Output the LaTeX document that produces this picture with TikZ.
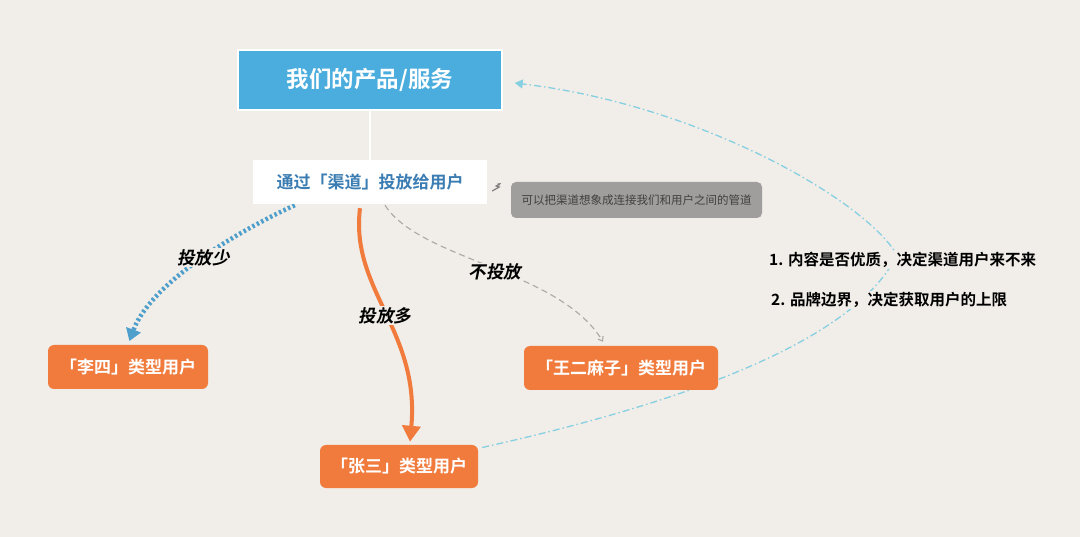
\documentclass[tikz,border=0pt]{standalone}
\usepackage{fontspec}
\setmainfont{Noto Sans CJK SC}[BoldFont={Noto Sans CJK SC Bold}]
\newfontfamily\slantcjk{Noto Sans CJK SC Bold}[FakeSlant=0.2]
\usetikzlibrary{
  arrows.meta,
  calc,
  backgrounds,
}
\definecolor{paperbg}{HTML}{F1EDE8}
\definecolor{prodblue}{HTML}{4BADDD}
\definecolor{chantext}{HTML}{3B7DB2}
\definecolor{userorange}{HTML}{F07B3C}
\definecolor{notegray}{HTML}{A09E9D}
\definecolor{dotblue}{HTML}{4E9FCB}
\definecolor{loopcyan}{HTML}{86D0E2}
\definecolor{dashgray}{HTML}{ABA8A5}

\begin{document}
\begin{tikzpicture}[
    x=1pt, y=-1pt,
    prodbox/.style={fill=prodblue, draw=white, line width=1.5pt, text=white,
      minimum width=264pt, minimum height=60pt, inner sep=0pt,
      font=\fontsize{22.5}{26}\selectfont\bfseries},
    chanbox/.style={fill=white, text=chantext, minimum width=234pt,
      minimum height=44pt, inner sep=0pt, font=\fontsize{17}{20}\selectfont\bfseries},
    notebox/.style={fill=notegray, rounded corners=5pt, text=black!75,
      minimum width=251pt, minimum height=36pt, inner sep=0pt,
      font=\fontsize{11.5}{14}\selectfont},
    user/.style={fill=userorange, rounded corners=6pt, text=white,
      minimum height=44pt, inner sep=0pt, font=\fontsize{17}{20}\selectfont\bfseries},
    lbl/.style={fill=paperbg, text=black, inner sep=1pt, font=\fontsize{17.5}{20}\slantcjk},
    tip/.style={fill=paperbg, inner sep=1pt, anchor=west,
      font=\fontsize{15.5}{18}\selectfont\bfseries},
  ]
  \useasboundingbox (0,0) rectangle (1080,537);

  \node[prodbox] (prod) at (370,80) {我们的产品/服务};
  \node[chanbox] (chan) at (370,182) {通过「渠道」投放给用户};
  \node[notebox] (note) at (636.5,200) {可以把渠道想象成连接我们和用户之间的管道};
  \node[user, minimum width=160pt] (lisi) at (128,367) {「李四」类型用户};
  \node[user, minimum width=194pt] (wang) at (621,368) {「王二麻子」类型用户};
  \node[user, minimum width=158pt, minimum height=43pt] (zhang) at (399,466.5) {「张三」类型用户};
  \node[tip] (tipa) at (768,260) {1. 内容是否优质，决定渠道用户来不来};
  \node[tip] (tipb) at (770,300) {2. 品牌边界，决定获取用户的上限};

  \begin{scope}[on background layer]
    \fill[paperbg] (0,0) rectangle (1080,537);
    \draw[white, line width=2.5pt] (prod.south) -- (chan.north);
    % connectors from the channel
    \draw[dotblue, line width=4.5pt, dash pattern=on 2.5pt off 2.5pt,
        -{Triangle[width=15pt,length=12pt]}, shorten >=4pt]
      ($(chan.south west)+(42,1)$) .. controls (230,235) and (150,285) .. (lisi.north)
      node[lbl, pos=0.5, xshift=8pt, yshift=6pt] {投放少};
    \draw[userorange, line width=4pt, -{Triangle[width=18pt,length=16pt]}]
      ($(chan.south)+(-10,4)$) .. controls (350,290) and (420,330) .. ($(zhang.north)+(11,-3)$)
      node[lbl, pos=0.5, yshift=-2pt] {投放多};
    \draw[dashgray, line width=1.1pt, dash pattern=on 6pt off 4pt,
        -{Straight Barb[length=4pt,width=6pt]}]
      ($(chan.south)+(15,1)$) .. controls (420,260) and (560,270) .. ($(wang.north)+(-18,-4)$)
      node[lbl, pos=0.5, xshift=4pt, yshift=-5pt] {不投放};
    \draw[notegray!80!black, line width=1.2pt, -{Stealth[length=4pt]}]
      ($(chan.east)+(5,9)$) -- ++(7,-4) -- ++(-3,-1) -- ++(5,-3);
    % feedback loop
    \draw[loopcyan, line width=1.3pt, dash pattern=on 7pt off 3pt on 1.5pt off 3pt,
        -{Triangle[width=9pt,length=8pt]}]
      ($(zhang.east)+(4,-19)$) .. controls (650,410) and (850,350) .. (897,255)
      .. controls (865,200) and (700,105) .. ($(prod.east)+(12,3)$);
  \end{scope}
\end{tikzpicture}
\end{document}
